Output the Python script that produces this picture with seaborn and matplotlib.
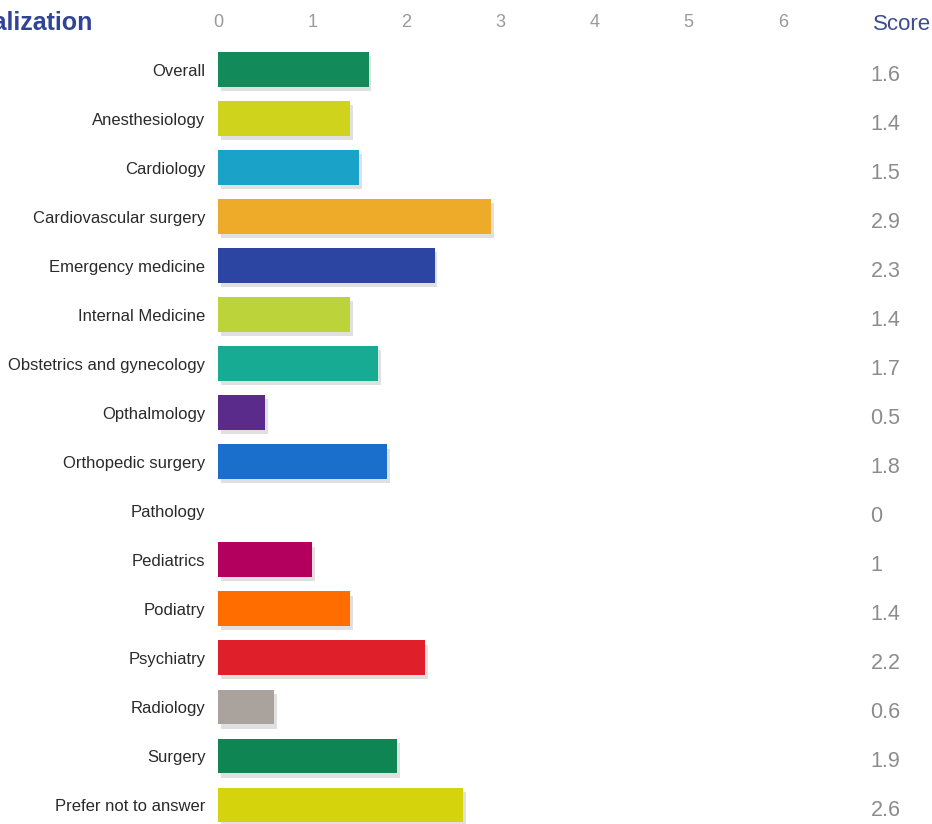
import numpy as np
import pandas as pd
import matplotlib
matplotlib.use("Agg")
import matplotlib.pyplot as plt
import matplotlib.patheffects as pe
import matplotlib.transforms as mtransforms
import seaborn as sns

# =========================
# Data
# =========================
specialties = [
    "Overall", "Anesthesiology", "Cardiology", "Cardiovascular surgery",
    "Emergency medicine", "Internal Medicine", "Obstetrics and gynecology",
    "Opthalmology", "Orthopedic surgery", "Pathology", "Pediatrics",
    "Podiatry", "Psychiatry", "Radiology", "Surgery", "Prefer not to answer",
]
scores = [1.6, 1.4, 1.5, 2.9, 2.3, 1.4, 1.7, 0.5, 1.8, 0, 1, 1.4, 2.2, 0.6, 1.9, 2.6]
score_labels = ["1.6", "1.4", "1.5", "2.9", "2.3", "1.4", "1.7", "0.5",
                "1.8", "0", "1", "1.4", "2.2", "0.6", "1.9", "2.6"]
colors = [
    "#138a5a", "#cfd31c", "#1ba2c8", "#eeab2a", "#2c45a2", "#bdd33a",
    "#17ab94", "#5b2b8c", "#1a6fcc", "#cccccc", "#b3005e", "#ff6c00",
    "#df1f2a", "#aaa29c", "#0f8553", "#d5d40c",
]
xticks = [0, 1, 2, 3, 4, 5, 6]

df = pd.DataFrame({"specialty": specialties, "score": scores})

sns.set_style("white")
plt.rcParams["font.family"] = ["Liberation Sans", "DejaVu Sans"]

fig = plt.figure(figsize=(9.32, 8.24), dpi=100)
ax = fig.add_axes([0.2339, -0.0067, 0.6567, 0.9521])

sns.barplot(
    data=df, x="score", y="specialty", hue="specialty",
    palette=colors, legend=False, orient="h", width=0.71,
    saturation=1, ax=ax,
)
for bar in ax.patches:
    bar.set_edgecolor("none")
    bar.set_path_effects([
        pe.SimplePatchShadow(offset=(2, -3), shadow_rgbFace="#999999", alpha=0.3),
        pe.Normal(),
    ])

ax.set_xlim(0, 6.5)
ax.set_ylim(15.5, -0.5)
ax.xaxis.tick_top()
ax.set_xticks(xticks)
ax.set_xticklabels([str(t) for t in xticks], color="#9a9a9a", fontsize=13)
ax.tick_params(axis="x", length=0, pad=10)
ax.tick_params(axis="y", length=0, pad=9, labelsize=12, labelcolor="#2a2a2a")
ax.set_xlabel("")
ax.set_ylabel("")
sns.despine(ax=ax, left=True, bottom=True, top=True, right=True)

# score column on the right
trans = mtransforms.blended_transform_factory(fig.transFigure, ax.transData)
for i, lab in enumerate(score_labels):
    ax.text(0.934, i + 0.12, lab, transform=trans, ha="left", va="center",
            fontsize=15.5, color="#8c8c8c", clip_on=False)

fig.text(0.9365, 0.97, "Score", ha="left", va="center", fontsize=16,
         color="#3d4c8c")
fig.text(0.099, 0.972, "Specialization", ha="right", va="center",
         fontsize=18, fontweight="bold", color="#2f4496")

fig.savefig("out.png", dpi=100)
plt.close(fig)
